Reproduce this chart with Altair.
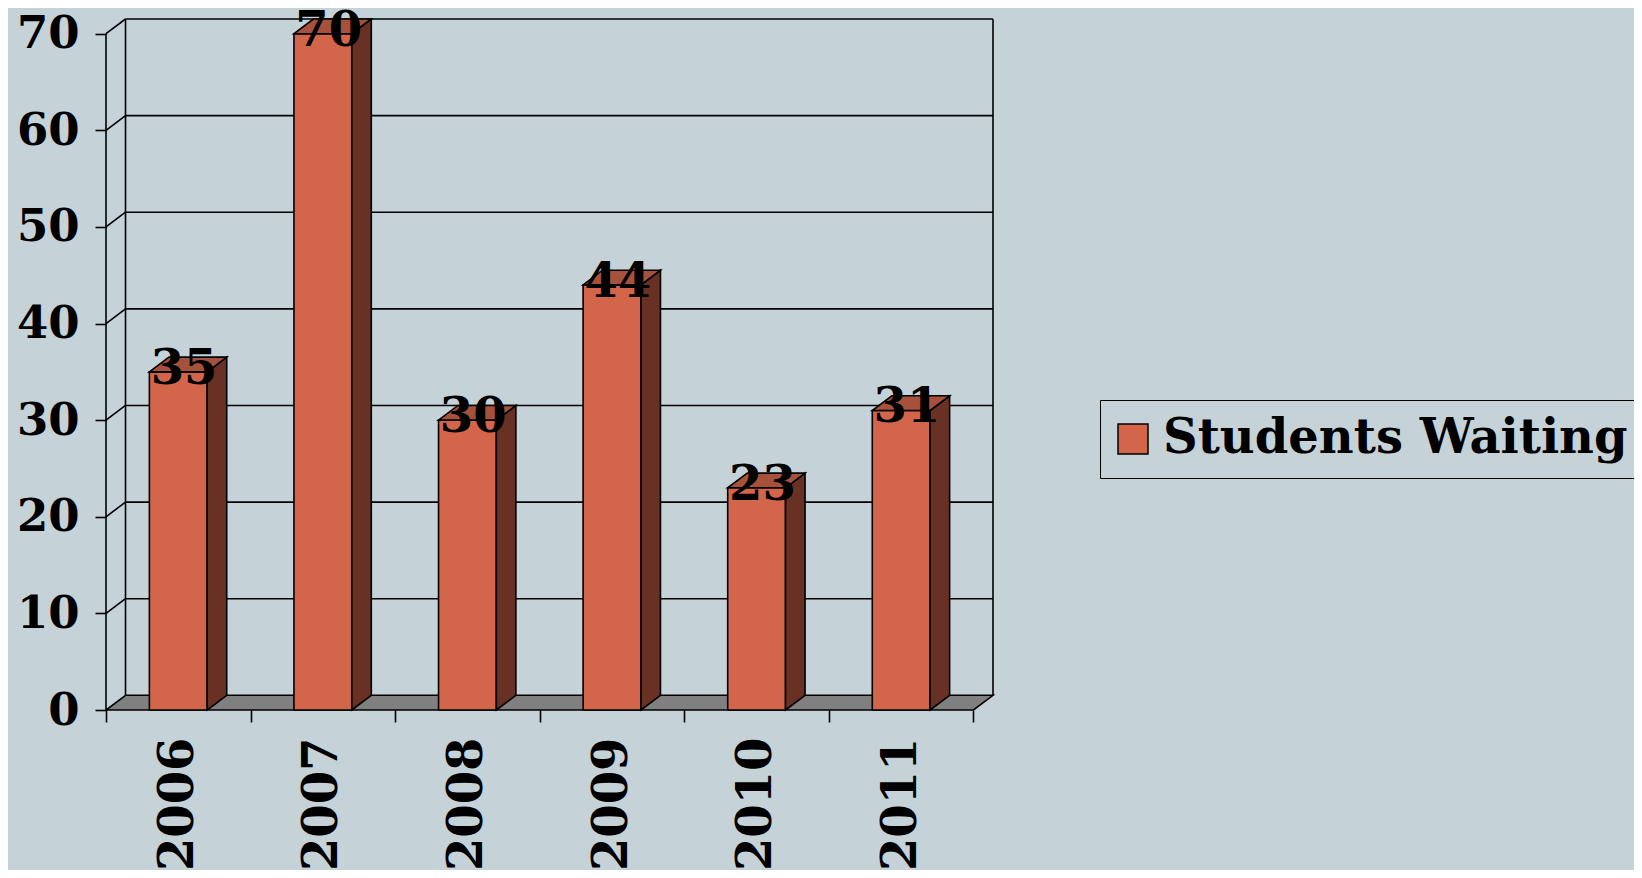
import json
import altair as alt
import pandas as pd

# ---- data ----
years = ["2006", "2007", "2008", "2009", "2010", "2011"]
values = [35, 70, 30, 44, 23, 31]
y_ticks = [0, 10, 20, 30, 40, 50, 60, 70]
series_name = "Students Waiting"

# ---- style constants (3-D depth expressed in data units) ----
N = len(years)
YMAX = 70
DX = 0.135      # depth offset along x, in category units
DY = 1.52       # depth offset along y, in value units
BW = 0.40       # bar width, in category units
FONT = "DejaVu Serif"
BG = "#C5D3D9"
FRONT = "#D2654A"
TOP = "#A5513C"
SIDE = "#693024"
FLOOR = "#808080"
LW = 1.6

XS = alt.Scale(domain=[0, N + DX], nice=False, zero=False)
YS = alt.Scale(domain=[0, YMAX + DY], nice=False, zero=False)

label_expr = "datum.value < %d ? %s[datum.value] : ''" % (N, json.dumps(years))
XA = alt.Axis(values=list(range(N + 1)), labelExpr=label_expr, tickSize=12,
              tickWidth=LW, tickColor="black", labelOffset=72.3, labelAngle=270,
              labelFont=FONT, labelFontSize=48, labelFontWeight="bold",
              labelColor="black", labelPadding=15, labelFlush=False,
              labelOverlap=False, labelBound=False, domain=False, grid=False, title=None)
YA = alt.Axis(values=y_ticks, tickSize=11, tickWidth=LW, tickColor="black",
              labelFont=FONT, labelFontSize=45, labelFontWeight="bold",
              labelColor="black", labelPadding=16, domain=False, grid=False,
              title=None, labelOverlap=False)


def X(f):
    return alt.X(f, type="quantitative", scale=XS, axis=XA)


def Y(f):
    return alt.Y(f, type="quantitative", scale=YS, axis=YA)


# ---- wall / floor geometry ----
wall_rows = []
for v in y_ticks:
    if v > 0:
        wall_rows.append({"x": 0, "y": v, "x2": DX, "y2": v + DY})          # side-wall diagonal
        wall_rows.append({"x": DX, "y": v + DY, "x2": N + DX, "y2": v + DY})  # back-wall gridline
wall_rows.append({"x": DX, "y": DY, "x2": DX, "y2": YMAX + DY})
wall_rows.append({"x": N + DX, "y": DY, "x2": N + DX, "y2": YMAX + DY})
wall_rows.append({"x": 0, "y": 0, "x2": 0, "y2": YMAX})                    # front value axis
walls = pd.DataFrame(wall_rows)

floor = pd.DataFrame([{"y": 0, "xl": 0, "xr": N},
                      {"y": DY, "xl": DX, "xr": N + DX}])

front = pd.DataFrame({
    "x": [i + 0.5 - BW / 2 for i in range(N)],
    "x2": [i + 0.5 + BW / 2 for i in range(N)],
    "y": [0] * N,
    "y2": values,
    "series": [series_name] * N,
})

side_rows, top_rows = [], []
for i, v in enumerate(values):
    xr = i + 0.5 + BW / 2
    xl = i + 0.5 - BW / 2
    side_rows.append({"bar": i, "x": xr, "lo": 0, "hi": v})
    side_rows.append({"bar": i, "x": xr + DX, "lo": DY, "hi": v + DY})
    top_rows.append({"bar": i, "y": v, "xl": xl, "xr": xr})
    top_rows.append({"bar": i, "y": v + DY, "xl": xl + DX, "xr": xr + DX})
side = pd.DataFrame(side_rows)
top = pd.DataFrame(top_rows)

labels = pd.DataFrame({
    "x": [i + 0.5 + 0.04 for i in range(N)],
    "y": values,
    "t": [str(v) for v in values],
})

wall_layer = alt.Chart(walls).mark_rule(color="black", strokeWidth=LW).encode(
    x=X("x"), y=Y("y"), x2="x2", y2="y2")

floor_layer = alt.Chart(floor).mark_area(
    orient="horizontal", fill=FLOOR, stroke="black", strokeWidth=LW, opacity=1
).encode(y=Y("y"), x=X("xl"), x2="xr")

front_layer = alt.Chart(front).mark_rect(stroke="black", strokeWidth=LW, opacity=1).encode(
    x=X("x"), x2="x2", y=Y("y"), y2="y2",
    color=alt.Color("series:N",
                    scale=alt.Scale(domain=[series_name], range=[FRONT]),
                    legend=alt.Legend(orient="none", legendX=994, legendY=381,
                                      title=None, strokeColor="black", padding=15,
                                      symbolType="square", symbolSize=900,
                                      symbolOffset=-6,
                                      symbolStrokeColor="black", symbolStrokeWidth=1.5,
                                      symbolOpacity=1, labelFont=FONT, labelFontSize=48,
                                      labelFontWeight="bold", labelColor="black",
                                      labelOffset=6, labelLimit=800)))

side_layer = alt.Chart(side).mark_area(
    fill=SIDE, stroke="black", strokeWidth=LW, opacity=1
).encode(x=X("x"), y=Y("lo"), y2="hi", detail="bar:N")

top_layer = alt.Chart(top).mark_area(
    orient="horizontal", fill=TOP, stroke="black", strokeWidth=LW, opacity=1
).encode(y=Y("y"), x=X("xl"), x2="xr", detail="bar:N")

text_layer = alt.Chart(labels).mark_text(
    font=FONT, fontSize=48, fontWeight="bold", color="black",
    baseline="middle", align="center", dy=-2
).encode(x=X("x"), y=Y("y"), text="t:N")

chart = alt.layer(
    wall_layer, floor_layer, front_layer, side_layer, top_layer, text_layer
).properties(
    width=887, height=691,
    autosize=alt.AutoSizeParams(type="none"),
    padding={"left": 98, "top": 11, "right": 641, "bottom": 160},
    background=BG,
).configure_view(stroke=None)

chart.save("out.html", embed_options={"renderer": "svg", "actions": False})
